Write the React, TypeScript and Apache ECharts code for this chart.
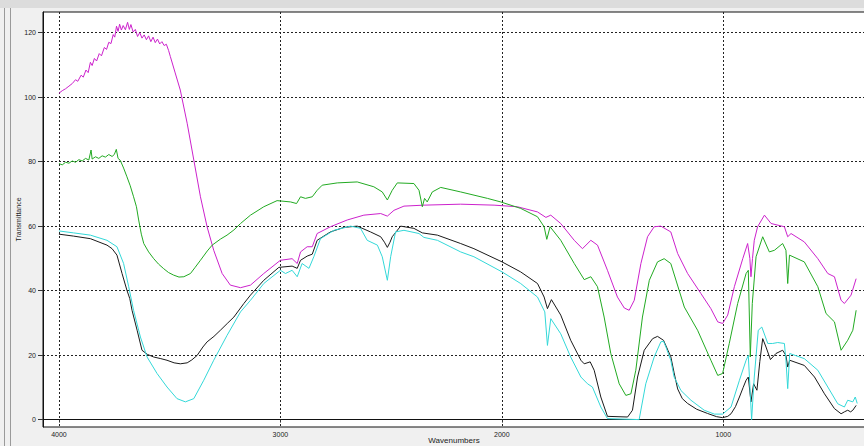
import React, { useEffect, useRef } from "react";
import * as echarts from "echarts";

const xTicks = [1000, 2000, 3000, 4000];
const yTicks = [0, 20, 40, 60, 80, 100, 120];

const magenta: number[][] = [
  [4000,101.2],[3985,102.0],[3970,102.6],[3955,103.4],[3940,104.2],[3925,105.4],[3915,104.9],[3900,106.8],[3890,106.2],[3878,108.4],[3868,107.6],[3858,110.8],[3850,109.8],[3840,112.0],[3830,111.2],[3818,113.5],[3808,112.8],[3795,115.4],[3785,114.8],[3775,117.0],[3765,116.6],[3755,119.4],[3748,118.6],[3740,122.0],[3733,120.4],[3726,122.6],[3718,120.8],[3710,122.2],[3700,120.9],[3690,123.2],[3682,121.0],[3675,122.5],[3665,120.2],[3655,121.0],[3645,118.8],[3635,120.0],[3625,118.3],[3615,119.3],[3605,117.8],[3595,119.0],[3585,117.2],[3575,118.6],[3565,116.9],[3555,118.0],[3545,116.5],[3535,117.2],[3525,116.0],[3515,116.4],[3505,114.5],[3497,112.6],[3475,107.5],[3452,102.2],[3421,91.9],[3391,80.5],[3361,69.1],[3331,59.8],[3301,52.5],[3263,45.3],[3226,41.7],[3180,40.9],[3135,41.7],[3075,45.3],[3000,49.4],[2947,49.9],[2924,48.4],[2909,52.0],[2879,53.6],[2856,53.6],[2834,57.7],[2774,59.8],[2698,61.9],[2623,63.4],[2547,63.9],[2517,63.1],[2487,64.9],[2442,66.2],[2352,66.5],[2186,66.8],[2035,66.5],[1930,66.0],[1839,64.4],[1801,62.7],[1779,63.4],[1734,60.8],[1673,55.6],[1636,53.0],[1598,55.6],[1568,54.1],[1523,46.3],[1478,38.0],[1447,34.6],[1425,33.9],[1402,37.0],[1372,48.4],[1342,56.7],[1312,59.8],[1282,60.0],[1237,58.2],[1206,51.5],[1161,45.3],[1101,39.1],[1056,34.4],[1025,30.3],[1003,29.8],[980,32.4],[950,41.2],[912,49.9],[890,54.6],[880,50.0],[875,44.3],[868,50.0],[860,55.6],[845,59.8],[814,63.4],[784,60.8],[724,59.8],[709,56.7],[694,57.7],[634,55.1],[573,49.9],[528,45.3],[498,44.3],[468,37.0],[453,36.0],[423,38.6],[400,43.7]
];

const green: number[][] = [
  [4000,79.4],[3985,79.0],[3970,79.8],[3955,79.5],[3940,80.2],[3925,79.8],[3910,80.6],[3895,80.2],[3880,81.0],[3865,80.5],[3855,83.6],[3850,80.8],[3835,81.5],[3820,81.0],[3805,81.8],[3790,81.4],[3775,82.2],[3760,81.6],[3750,82.2],[3741,83.8],[3733,81.0],[3723,80.4],[3708,78.0],[3693,75.3],[3678,72.5],[3663,69.1],[3650,66.0],[3640,61.9],[3628,57.5],[3617,54.6],[3595,52.0],[3572,49.9],[3550,48.2],[3527,46.8],[3505,45.6],[3482,44.8],[3458,44.2],[3436,44.3],[3406,45.3],[3385,47.2],[3361,49.4],[3330,52.3],[3308,54.1],[3270,56.0],[3241,57.2],[3210,58.8],[3180,60.8],[3135,63.4],[3075,66.0],[3015,67.9],[2954,67.5],[2927,67.0],[2909,69.1],[2887,68.6],[2856,69.1],[2834,71.1],[2811,72.7],[2743,73.4],[2653,73.7],[2578,72.2],[2540,70.6],[2517,68.1],[2495,71.1],[2472,73.4],[2397,73.2],[2374,71.1],[2359,66.0],[2349,68.6],[2337,67.5],[2314,70.6],[2276,72.0],[2186,70.6],[2065,68.6],[2005,67.5],[1915,65.5],[1839,62.9],[1809,59.8],[1797,55.9],[1782,59.8],[1734,55.6],[1673,48.4],[1628,43.4],[1598,44.3],[1568,41.2],[1538,31.8],[1508,20.5],[1470,11.1],[1440,7.5],[1417,8.0],[1395,15.3],[1365,31.8],[1334,43.2],[1297,48.9],[1267,49.9],[1237,48.4],[1176,34.9],[1116,27.7],[1056,18.4],[1025,13.7],[1003,14.3],[973,23.6],[935,36.0],[897,45.3],[887,46.3],[878,19.4],[869,36.0],[852,50.5],[822,56.7],[792,52.0],[769,52.5],[732,54.6],[717,52.5],[709,42.2],[701,51.0],[634,48.9],[573,41.2],[536,32.9],[498,30.3],[468,21.5],[438,24.6],[415,27.7],[400,33.9]
];

const black: number[][] = [
  [4000,57.5],[3934,56.9],[3858,56.1],[3783,54.1],[3760,53.0],[3738,51.0],[3715,45.3],[3693,40.1],[3680,37.5],[3670,33.9],[3647,27.7],[3625,21.5],[3600,20.2],[3572,19.4],[3540,18.9],[3512,18.4],[3480,17.6],[3452,17.3],[3421,17.6],[3400,18.5],[3376,19.9],[3350,22.5],[3331,24.1],[3300,25.8],[3271,27.7],[3240,29.8],[3210,31.8],[3165,36.0],[3135,38.6],[3075,43.2],[3007,47.2],[2947,47.6],[2924,46.9],[2909,49.4],[2879,50.7],[2856,51.3],[2834,55.6],[2774,58.2],[2713,59.6],[2653,60.0],[2593,58.2],[2547,56.7],[2530,55.0],[2517,53.4],[2505,55.0],[2495,56.7],[2457,60.0],[2397,59.3],[2359,57.9],[2291,57.2],[2186,54.6],[2126,53.0],[1999,48.9],[1915,45.8],[1839,42.2],[1809,38.0],[1794,34.4],[1776,37.2],[1734,32.4],[1689,24.6],[1643,18.4],[1628,17.3],[1601,17.9],[1583,15.3],[1553,7.0],[1523,1.0],[1432,0.8],[1410,2.9],[1387,13.2],[1357,21.5],[1319,25.1],[1297,25.8],[1270,24.6],[1250,21.5],[1237,19.5],[1222,14.5],[1206,9.5],[1185,6.5],[1161,5.0],[1120,3.2],[1071,1.9],[1030,0.9],[1003,0.6],[980,1.0],[965,1.8],[945,4.0],[927,7.0],[910,10.0],[897,12.2],[887,13.2],[875,5.5],[863,11.1],[848,9.1],[835,18.0],[822,25.1],[807,22.5],[787,18.6],[762,20.5],[732,21.5],[717,19.9],[709,16.3],[700,18.4],[634,16.8],[588,13.2],[543,8.0],[498,3.4],[468,1.8],[453,2.4],[438,2.9],[425,2.4],[415,2.9],[400,4.4]
];

const cyan: number[][] = [
  [4000,58.5],[3934,57.9],[3858,57.2],[3783,55.6],[3738,53.6],[3708,48.4],[3685,41.2],[3663,33.9],[3632,25.6],[3602,19.4],[3557,14.3],[3512,10.1],[3467,6.5],[3429,5.5],[3391,6.5],[3346,12.2],[3301,18.4],[3241,26.1],[3180,33.4],[3135,37.0],[3075,42.2],[3000,46.3],[2977,45.3],[2947,46.3],[2924,44.3],[2902,48.4],[2871,46.9],[2849,50.5],[2819,56.1],[2758,58.7],[2683,60.0],[2638,59.3],[2608,55.6],[2562,54.1],[2540,50.5],[2517,43.2],[2502,50.5],[2480,58.2],[2442,58.7],[2374,57.7],[2352,56.5],[2291,55.6],[2186,52.0],[2126,50.5],[1999,45.8],[1915,42.2],[1839,38.0],[1806,33.4],[1794,23.0],[1779,31.3],[1734,26.6],[1689,19.4],[1643,13.2],[1613,11.1],[1591,10.1],[1553,3.9],[1523,0.3],[1380,0.0],[1350,11.1],[1312,19.4],[1282,24.1],[1270,24.3],[1259,22.5],[1237,18.4],[1222,13.2],[1191,9.0],[1146,6.0],[1086,2.9],[1040,1.7],[1003,1.7],[965,3.9],[927,12.2],[897,18.4],[887,19.9],[878,8.0],[872,0.0],[860,13.2],[842,27.7],[826,28.7],[799,23.6],[777,23.6],[754,23.9],[724,23.6],[717,18.4],[709,9.6],[700,20.5],[634,18.9],[573,15.3],[528,10.1],[483,4.9],[453,3.9],[438,6.0],[415,5.5],[404,7.0],[395,5.0]
];

const seriesDefs = [
  { name: "magenta", data: magenta, color: "#cc22cc" },
  { name: "green", data: green, color: "#22aa22" },
  { name: "black", data: black, color: "#1a1a1a" },
  { name: "cyan", data: cyan, color: "#33d8d8" },
];

const font = "Liberation Sans, Arial, sans-serif";

export default function App() {
  const ref = useRef<HTMLDivElement>(null);
  useEffect(() => {
    const chart = echarts.init(ref.current!, null, { renderer: "svg" });
    const gridLine = { show: true, lineStyle: { color: "#222", type: [2, 2], width: 1 } };
    const plain = (v: number) => String(v);
    chart.setOption({
      animation: false,
      backgroundColor: "#f0f0f0",
      graphic: [
        { type: "rect", shape: { x: 0, y: 0, width: 864, height: 8 }, style: { fill: "#dcdcdc" }, silent: true },
        { type: "line", shape: { x1: 4.5, y1: 8, x2: 4.5, y2: 446 }, style: { stroke: "#9a9a9a", lineWidth: 1 }, silent: true },
        { type: "line", shape: { x1: 10.5, y1: 8, x2: 10.5, y2: 446 }, style: { stroke: "#9a9a9a", lineWidth: 1 }, silent: true },
      ],
      grid: {
        left: 43, top: 12, right: -1, bottom: 19,
        outerBoundsMode: "none", containLabel: false,
        show: true, backgroundColor: "#ffffff", borderColor: "#111", borderWidth: 1,
      },
      xAxis: {
        type: "value", inverse: true, min: 360, max: 4072,
        name: "Wavenumbers", nameLocation: "middle", nameGap: 9, nameMoveOverlap: false,
        nameTextStyle: { fontSize: 8, color: "#222", fontFamily: font },
        axisLine: { show: true, lineStyle: { color: "#111" } },
        axisTick: { show: true, length: 3, customValues: xTicks, lineStyle: { color: "#333" } },
        axisLabel: { customValues: xTicks, formatter: plain, fontSize: 7, margin: 4, color: "#222", fontFamily: font },
        splitLine: gridLine,
      },
      yAxis: {
        type: "value", min: -2.3, max: 126.4,
        name: "Transmittance", nameLocation: "middle", nameGap: 21, nameRotate: 90, nameMoveOverlap: false,
        nameTextStyle: { fontSize: 7, color: "#222", fontFamily: font },
        axisLine: { show: true, lineStyle: { color: "#111" } },
        axisTick: { show: true, length: 5, customValues: yTicks, lineStyle: { color: "#333" } },
        axisLabel: { customValues: yTicks, formatter: plain, fontSize: 7, margin: 7, color: "#222", fontFamily: font },
        splitLine: gridLine,
      },
      series: seriesDefs.map((s) => ({
        name: s.name, type: "line", data: s.data, showSymbol: false, symbol: "none",
        silent: true, lineStyle: { color: s.color, width: 1 }, itemStyle: { color: s.color },
      })),
    });
    return () => chart.dispose();
  }, []);
  return <div ref={ref} style={{ position: "fixed", left: 0, top: 0, width: 864, height: 446 }} />;
}
